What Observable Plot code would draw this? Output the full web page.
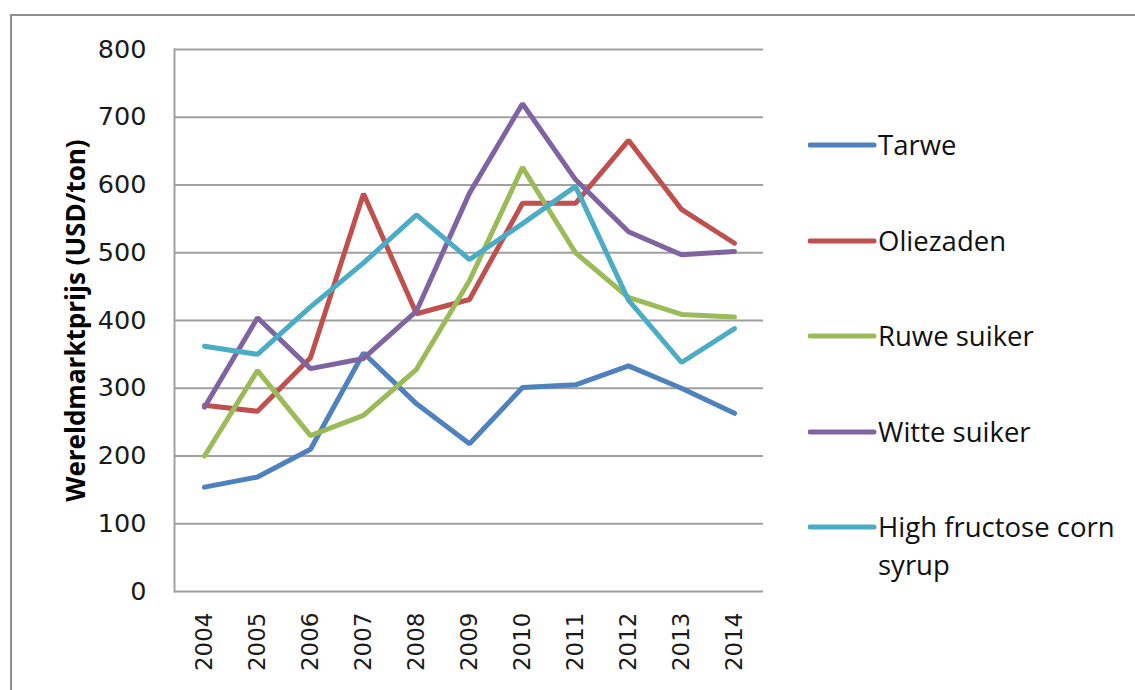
<!DOCTYPE html>
<html>
<head>
<meta charset="utf-8">
<script src="https://cdn.jsdelivr.net/npm/d3@7"></script>
<script src="https://cdn.jsdelivr.net/npm/@observablehq/plot@0.6"></script>
<style>
  html, body { margin: 0; padding: 0; background: #fff; }
  #wrap { position: relative; width: 1135px; height: 690px; overflow: hidden; }
  #border { position: absolute; left: 10px; top: 14px; width: 2000px; height: 2000px; border: 2px solid #8e8e8e; pointer-events: none; }
  #chart { position: absolute; left: 0; top: 0; }
  #chart svg g[aria-label="y-axis label"] text { font-family: "Open Sans", sans-serif; font-weight: 700; font-size: 26px; fill: #000; }
  #legend { position: absolute; left: 808px; top: 126px; font-family: "Open Sans", sans-serif; font-size: 27.5px; color: #111; }
  .item { display: flex; align-items: flex-start; margin-bottom: 57.5px; }
  .item svg { flex: none; }
  .item span { line-height: 38px; width: 250px; display: block; white-space: normal; }
</style>
</head>
<body>
<div id="wrap">
  <div id="chart"></div>
  <div id="border"></div>
  <div id="legend"></div>
</div>
<script>
const years = ["2004","2005","2006","2007","2008","2009","2010","2011","2012","2013","2014"];
const seriesNames = ["Tarwe","Oliezaden","Ruwe suiker","Witte suiker","High fructose corn syrup"];
const seriesColors = ["#4F81BD","#C0504D","#9BBB59","#8064A2","#4BACC6"];
const yTicks = [0,100,200,300,400,500,600,700,800];

const tarwe       = [154,169,210,352,277,218,301,305,333,300,263];
const oliezaden   = [275,266,345,587,410,431,573,573,666,564,514];
const ruweSuiker  = [200,326,230,260,328,459,626,500,434,409,405];
const witteSuiker = [272,404,329,344,414,588,720,608,531,497,502];
const hfcs        = [362,350,420,485,556,490,543,598,430,338,388];

const seriesValues = [tarwe, oliezaden, ruweSuiker, witteSuiker, hfcs];
const data = seriesNames.flatMap((s, i) => years.map((y, j) => ({series: s, year: y, value: seriesValues[i][j]})));

const chart = Plot.plot({
  width: 1135,
  height: 690,
  marginLeft: 174,
  marginTop: 49,
  marginRight: 372,
  marginBottom: 99,
  style: {fontFamily: "DejaVu Sans, sans-serif", background: "transparent"},
  x: {type: "point", domain: years, padding: 0.5},
  y: {domain: [0, 800]},
  color: {domain: seriesNames, range: seriesColors},
  marks: [
    Plot.ruleY(yTicks, {stroke: "#a0a0a0", strokeWidth: 2}),
    Plot.frame({anchor: "left", stroke: "#a0a0a0", strokeWidth: 2}),
    Plot.axisY({ticks: yTicks, tickSize: 0, tickPadding: 28, fontSize: 25.5, fill: "#1a1a1a",
      label: "Wereldmarktprijs (USD/ton)", labelAnchor: "center", labelArrow: "none", labelOffset: 108}),
    Plot.axisX({tickRotate: -90, tickSize: 0, tickPadding: 21, fontSize: 23, fill: "#1a1a1a", label: null}),
    Plot.line(data, {x: "year", y: "value", z: "series", stroke: "series", strokeWidth: 5, strokeLinejoin: "miter", strokeLinecap: "round"})
  ]
});
document.getElementById("chart").appendChild(chart);

const legend = document.getElementById("legend");
seriesNames.forEach((s, i) => {
  const item = document.createElement("div");
  item.className = "item";
  item.innerHTML = `<svg width="70" height="38"><line x1="2" y1="19" x2="66" y2="19" stroke="${seriesColors[i]}" stroke-width="5" stroke-linecap="round"/></svg><span>${s}</span>`;
  legend.appendChild(item);
});
</script>
</body>
</html>
